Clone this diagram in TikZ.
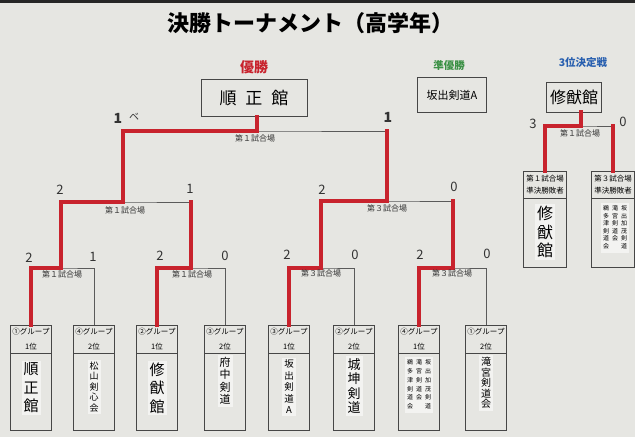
\documentclass[tikz,border=0pt]{standalone}
\usepackage{fontspec}
\setmainfont{Noto Sans CJK JP}
\usetikzlibrary{calc}
\definecolor{bgc}{RGB}{230,230,226}
\definecolor{redc}{RGB}{200,35,45}
\definecolor{grn}{RGB}{60,145,70}
\definecolor{blu}{RGB}{40,95,175}
\definecolor{linec}{RGB}{90,90,90}
\definecolor{boxc}{RGB}{70,70,70}
\definecolor{strip}{RGB}{243,243,241}
\newcommand\vcol[1]{\begin{tabular}[t]{@{}c@{}}#1\end{tabular}}
\begin{document}
\begin{tikzpicture}[x=1pt,y=-1pt,
  thinl/.style={draw=linec, line width=0.8pt},
  win/.style={draw=redc, line width=4.6pt, line cap=rect},
  hdr/.style={draw=boxc, line width=0.8pt, minimum width=41, minimum height=28, inner sep=0pt, align=center, anchor=north, font=\fontsize{7.5}{15}\selectfont},
  body/.style={draw=boxc, line width=0.8pt, minimum width=41, minimum height=77, inner sep=0pt, anchor=north},
  thdr/.style={hdr, minimum width=43, minimum height=27, font=\fontsize{7.5}{12}\selectfont},
  tbody/.style={body, minimum width=43, minimum height=69},
  nm/.style={fill=strip, inner sep=2pt, align=center},
  lbl/.style={font=\fontsize{8}{8}\selectfont, text=black!80, inner sep=1pt},
  score/.style={font=\fontsize{13}{13}\selectfont, text=black!80, inner sep=1pt},
  topbox/.style={draw=boxc, line width=0.8pt, inner sep=0pt}
]
\useasboundingbox (0,0) rectangle (635,437);
\fill[bgc] (0,0) rectangle (635,437);
\fill[black!85] (0,0) rectangle (635,3);

% title and headings
\node[font=\bfseries\fontsize{22}{22}\selectfont] (title) at (310,23) {決勝トーナメント（高学年）};
\node[font=\bfseries\fontsize{14}{14}\selectfont, text=redc] (champ) at (254,67) {優勝};
\node[font=\bfseries\fontsize{10.5}{10.5}\selectfont, text=grn] (second) at (449,66) {準優勝};
\node[font=\bfseries\fontsize{10.5}{10.5}\selectfont, text=blu] (third) at (583,63) {3位決定戦};

% result boxes
\node[topbox, minimum width=106, minimum height=37, font=\fontsize{17}{17}\selectfont] (champbox) at (254,98) {順\hspace{9pt}正\hspace{9pt}館};
\node[topbox, minimum width=69, minimum height=35, font=\fontsize{11}{11}\selectfont] (secbox) at (452,95) {坂出剣道A};
\node[topbox, minimum width=55, minimum height=30, font=\fontsize{16}{16}\selectfont] (thirdbox) at (574,97) {修猷館};

% bottom entry boxes
\node[hdr] (h1) at (31,325) {①グループ\\1位};
\node[hdr] (h2) at (94,325) {④グループ\\2位};
\node[hdr] (h3) at (157,325) {②グループ\\1位};
\node[hdr] (h4) at (225,325) {③グループ\\2位};
\node[hdr] (h5) at (289,325) {③グループ\\1位};
\node[hdr] (h6) at (354,325) {②グループ\\2位};
\node[hdr] (h7) at (419,325) {④グループ\\1位};
\node[hdr] (h8) at (486,325) {①グループ\\2位};
\foreach \i/\x in {1/31,2/94,3/157,4/225,5/289,6/354,7/419,8/486}
  \node[body] (b\i) at (\x,353) {};

\node[nm, font=\fontsize{15}{18.5}\selectfont] (n1) at (31,388) {順\\正\\館};
\node[nm, font=\fontsize{9}{10.5}\selectfont] (n2) at (94,387) {松\\山\\剣\\心\\会};
\node[nm, font=\fontsize{15}{18.5}\selectfont] (n3) at (157,388) {修\\猷\\館};
\node[nm, font=\fontsize{11}{12.5}\selectfont] (n4) at (225,381) {府\\中\\剣\\道};
\node[nm, font=\fontsize{9.5}{11.5}\selectfont] (n5) at (289,387) {坂\\出\\剣\\道\\A};
\node[nm, font=\fontsize{13}{14.5}\selectfont] (n6) at (354,386) {城\\坤\\剣\\道};
\node[nm, font=\fontsize{6}{8.8}\selectfont] (n7) at (419,385) {\vcol{鵜\\多\\津\\剣\\道\\会}\hspace{3pt}\vcol{滝\\宮\\剣\\道\\会}\hspace{3pt}\vcol{坂\\出\\加\\茂\\剣\\道}};
\node[nm, font=\fontsize{10}{10.5}\selectfont] (n8) at (486,383) {滝\\宮\\剣\\道\\会};

% third place boxes
\node[thdr] (th1) at (545,171) {第１試合場\\準決勝敗者};
\node[thdr] (th2) at (613,171) {第３試合場\\準決勝敗者};
\node[tbody] (tb1) at (545,198) {};
\node[tbody] (tb2) at (613,198) {};
\node[nm, font=\fontsize{16}{18.5}\selectfont] (tn1) at (545,232) {修\\猷\\館};
\node[nm, font=\fontsize{6}{7.6}\selectfont] (tn2) at (615,228) {\vcol{鵜\\多\\津\\剣\\道\\会}\hspace{3pt}\vcol{滝\\宮\\剣\\道\\会}\hspace{3pt}\vcol{坂\\出\\加\\茂\\剣\\道}};

% bracket coordinates
\coordinate (q1) at (61,268);
\coordinate (q2) at (191,268);
\coordinate (q3) at (321,268);
\coordinate (q4) at (453,268);
\coordinate (s1) at (123,202);
\coordinate (s2) at (387,201);
\coordinate (f) at (257,131);
\coordinate (t) at (581,126);

% thin bracket
\draw[thinl] (h1.north) |- (q1) -| (h2.north);
\draw[thinl] (h3.north) |- (q2) -| (h4.north);
\draw[thinl] (h5.north) |- (q3) -| (h6.north);
\draw[thinl] (h7.north) |- (q4) -| (h8.north);
\draw[thinl] (q1) |- (s1) -| (q2);
\draw[thinl] (q3) |- (s2) -| (q4);
\draw[thinl] (s1) |- (f) -| (s2);
\draw[thinl] (th1.north) |- (t) -| (th2.north);

% winning paths
\draw[win] (h1.north) |- (q1) |- (s1) |- (f) -- (f |- champbox.south);
\draw[win] (h3.north) |- (q2) -- (q2 |- s1);
\draw[win] (h5.north) |- (q3) |- (s2) -- (s2 |- f);
\draw[win] (h7.north) |- (q4) -- (q4 |- s2);
\draw[win] (th1.north) |- (t) -- (t |- thirdbox.south);
\draw[win] (th2.north) -- (th2.north |- t);

% match labels
\node[lbl] (lf) at (255,138) {第１試合場};
\node[lbl] (ls1) at (125,210) {第１試合場};
\node[lbl] (ls2) at (387,208) {第３試合場};
\node[lbl] (lq1) at (62,274) {第１試合場};
\node[lbl] (lq2) at (192,274) {第１試合場};
\node[lbl] (lq3) at (321,273) {第３試合場};
\node[lbl] (lq4) at (452,273) {第３試合場};
\node[lbl] (lt) at (580,133) {第１試合場};

% scores
\node[score, font=\bfseries\fontsize{14}{14}\selectfont] (sc1) at (118,118) {1};
\node[score, font=\fontsize{10}{10}\selectfont] (sc1b) at (134,117) {ベ};
\node[score, font=\bfseries\fontsize{14}{14}\selectfont] (sc2) at (388,117) {1};
\node[score] (sc3) at (60,190) {2};
\node[score] (sc4) at (190,189) {1};
\node[score] (sc5) at (322,190) {2};
\node[score] (sc6) at (454,187) {0};
\node[score] (sc7) at (29,258) {2};
\node[score] (sc8) at (93,257) {1};
\node[score] (sc9) at (160,256) {2};
\node[score] (sc10) at (225,256) {0};
\node[score] (sc11) at (287,255) {2};
\node[score] (sc12) at (355,255) {0};
\node[score] (sc13) at (420,255) {2};
\node[score] (sc14) at (487,254) {0};
\node[score] (sc15) at (533,124) {3};
\node[score] (sc16) at (623,122) {0};
\end{tikzpicture}
\end{document}
